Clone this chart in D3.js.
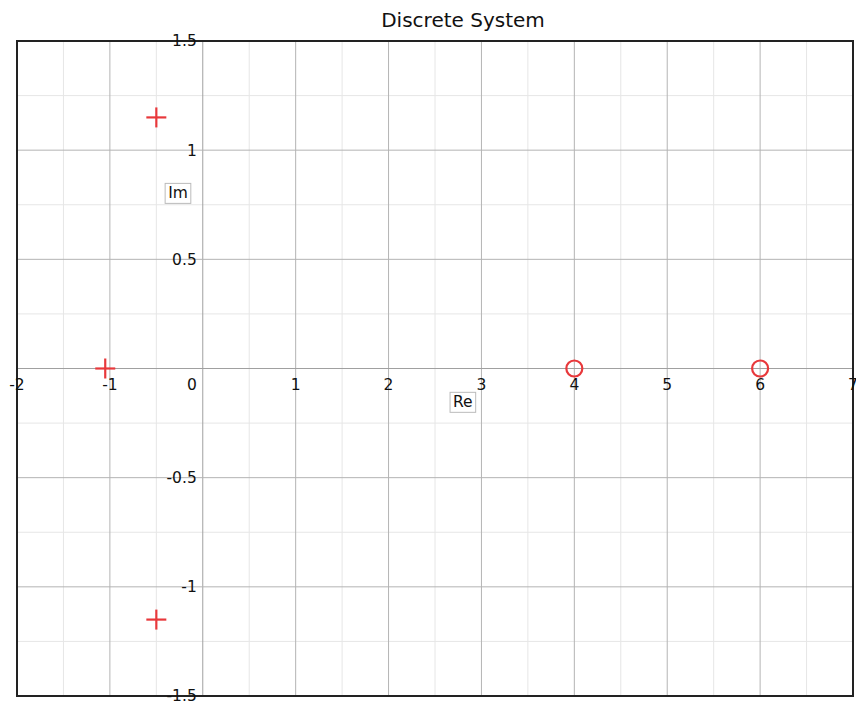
<!DOCTYPE html>
<html>
<head>
<meta charset="utf-8">
<script src="https://cdn.jsdelivr.net/npm/d3@7"></script>
<style>
  html, body { margin: 0; padding: 0; background: #fff; }
  svg { display: block; font-family: "DejaVu Sans", sans-serif; }
</style>
</head>
<body>
<svg id="chart" width="856" height="704"></svg>
<script>
// Pole-zero map of a discrete system
const title = "Discrete System";
const poleRe = [-0.5, -0.5, -1.05];
const poleIm = [1.15, -1.15, 0];
const zeroRe = [4, 6];
const zeroIm = [0, 0];
const xTicks = [-2, -1, 0, 1, 2, 3, 4, 5, 6, 7];
const yTicks = [-1.5, -1, -0.5, 0, 0.5, 1, 1.5];
const xMinor = [-1.5, -0.5, 0.5, 1.5, 2.5, 3.5, 4.5, 5.5, 6.5];
const yMinor = [-1.25, -0.75, -0.25, 0.25, 0.75, 1.25];
const xDomain = [-2, 7];
const yDomain = [-1.5, 1.5];

const svg = d3.select("#chart");
const plotLeft = 17, plotRight = 853, plotTop = 41, plotBottom = 696;
const x = d3.scaleLinear().domain(xDomain).range([plotLeft, plotRight]);
const y = d3.scaleLinear().domain(yDomain).range([plotBottom, plotTop]);

const markColor = "#e8383b";

// minor grid
const g = svg.append("g");
g.append("g").selectAll("line").data(xMinor).join("line")
  .attr("x1", d => x(d)).attr("x2", d => x(d))
  .attr("y1", plotTop).attr("y2", plotBottom)
  .attr("stroke", "#e6e6e6").attr("stroke-width", 1);
g.append("g").selectAll("line").data(yMinor).join("line")
  .attr("y1", d => y(d)).attr("y2", d => y(d))
  .attr("x1", plotLeft).attr("x2", plotRight)
  .attr("stroke", "#e6e6e6").attr("stroke-width", 1);

// major grid
g.append("g").selectAll("line").data(xTicks).join("line")
  .attr("x1", d => x(d)).attr("x2", d => x(d))
  .attr("y1", plotTop).attr("y2", plotBottom)
  .attr("stroke", d => d === 0 ? "#a0a0a0" : "#b4b4b4").attr("stroke-width", 1);
g.append("g").selectAll("line").data(yTicks).join("line")
  .attr("y1", d => y(d)).attr("y2", d => y(d))
  .attr("x1", plotLeft).attr("x2", plotRight)
  .attr("stroke", d => d === 0 ? "#a0a0a0" : "#b4b4b4").attr("stroke-width", 1);

// frame
svg.append("rect")
  .attr("x", plotLeft).attr("y", plotTop)
  .attr("width", plotRight - plotLeft).attr("height", plotBottom - plotTop)
  .attr("fill", "none").attr("stroke", "#222").attr("stroke-width", 2);

// tick labels along the zero axes
const fs = 15.5;
svg.append("g").selectAll("text").data(xTicks.filter(d => d !== 0)).join("text")
  .attr("x", d => x(d)).attr("y", y(0) + 21)
  .attr("text-anchor", "middle").attr("font-size", fs).attr("fill", "#111")
  .text(d => String(d));
svg.append("g").selectAll("text").data(yTicks.filter(d => d !== 0)).join("text")
  .attr("x", x(0) - 6).attr("y", d => y(d)).attr("dy", "0.35em")
  .attr("text-anchor", "end").attr("font-size", fs).attr("fill", "#111")
  .text(d => String(d));
svg.append("text")
  .attr("x", x(0) - 6).attr("y", y(0) + 21)
  .attr("text-anchor", "end").attr("font-size", fs).attr("fill", "#111")
  .text("0");

// axis name boxes
function boxLabel(cx, cy, txt) {
  const t = svg.append("text").attr("x", cx).attr("y", cy).attr("dy", "0.35em")
    .attr("text-anchor", "middle").attr("font-size", fs).attr("fill", "#111").text(txt);
  const bb = t.node().getBBox();
  svg.insert("rect", () => t.node())
    .attr("x", bb.x - 3).attr("y", bb.y - 1)
    .attr("width", bb.width + 6).attr("height", bb.height + 2)
    .attr("fill", "#fff").attr("stroke", "#bbb").attr("stroke-width", 1);
}
boxLabel(x(2.8), y(-0.153), "Re");
boxLabel(x(-0.267), y(0.804), "Im");

// poles: crosses
const arm = 10;
const poles = poleRe.map((r, i) => ({ re: r, im: poleIm[i] }));
const pg = svg.append("g").attr("stroke", markColor).attr("stroke-width", 2.2);
poles.forEach(p => {
  pg.append("line").attr("x1", x(p.re) - arm).attr("x2", x(p.re) + arm)
    .attr("y1", y(p.im)).attr("y2", y(p.im));
  pg.append("line").attr("x1", x(p.re)).attr("x2", x(p.re))
    .attr("y1", y(p.im) - arm).attr("y2", y(p.im) + arm);
});

// zeros: circles
const zeros = zeroRe.map((r, i) => ({ re: r, im: zeroIm[i] }));
svg.append("g").selectAll("circle").data(zeros).join("circle")
  .attr("cx", d => x(d.re)).attr("cy", d => y(d.im)).attr("r", 8)
  .attr("fill", "none").attr("stroke", markColor).attr("stroke-width", 2.2);

// title
svg.append("text").attr("x", 463).attr("y", 27)
  .attr("text-anchor", "middle").attr("font-size", 20).attr("fill", "#111")
  .text(title);
</script>
</body>
</html>
